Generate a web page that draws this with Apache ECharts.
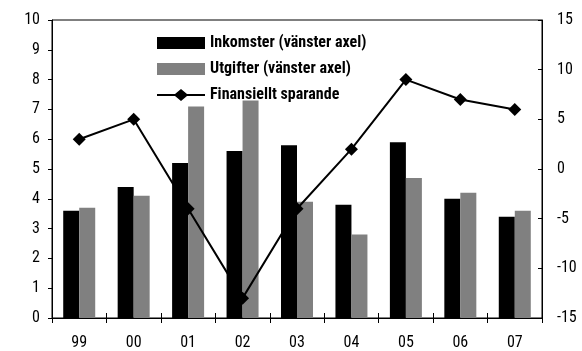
<!DOCTYPE html>
<html>
<head>
<meta charset="utf-8">
<script src="https://cdn.jsdelivr.net/npm/echarts@6/dist/echarts.min.js"></script>
<style>
  html, body { margin: 0; padding: 0; background: #fff; }
  #chart { width: 582px; height: 351px; }
</style>
</head>
<body>
<div id="chart"></div>
<script>
// Years (two-digit)
const years = ['99', '00', '01', '02', '03', '04', '05', '06', '07'];
// Income and expenditure, left axis
const inkomster = [3.6, 4.4, 5.2, 5.6, 5.8, 3.8, 5.9, 4.0, 3.4];
const utgifter = [3.7, 4.1, 7.1, 7.3, 3.9, 2.8, 4.7, 4.2, 3.6];
// Financial saving, right axis
const sparande = [3, 5, -4, -13, -4, 2, 9, 7, 6];

// Condensed Roboto via font-stretch in the canvas font shorthand
const FONT = 'Roboto, sans-serif';
const W_NORMAL = 'normal condensed';
const W_BOLD = 'bold condensed';

// Legend key for the line series: a line with a diamond in the middle
const LINE_KEY = 'path://M0,5 L18,5 L24,0 L30,5 L48,5 L48,7 L30,7 L24,12 L18,7 L0,7 Z';

const chart = echarts.init(document.getElementById('chart'), null, { renderer: 'canvas' });

chart.setOption({
  backgroundColor: '#ffffff',
  animation: false,
  grid: {
    left: 52, right: 40, top: 20, bottom: 32,
    show: true, borderColor: '#000', borderWidth: 1, backgroundColor: 'transparent'
  },
  legend: {
    orient: 'vertical',
    left: 157, top: 35, padding: 0,
    itemWidth: 48, itemHeight: 12, itemGap: 10,
    textStyle: { fontFamily: FONT, fontSize: 16, lineHeight: 14, fontWeight: W_BOLD, color: '#000' },
    data: [
      { name: 'Inkomster (vänster axel)', icon: 'rect' },
      { name: 'Utgifter (vänster axel)', icon: 'rect' },
      { name: 'Finansiellt sparande', icon: LINE_KEY, itemStyle: { color: '#000' } }
    ]
  },
  xAxis: [
    {
      type: 'category', data: years, position: 'bottom',
      axisLine: { onZero: false, lineStyle: { color: '#000', width: 1 } },
      axisTick: { show: true, inside: false, length: 5, lineStyle: { color: '#000' } },
      axisLabel: { fontFamily: FONT, fontWeight: W_NORMAL, fontSize: 16, color: '#000', margin: 17 }
    },
    {
      type: 'category', data: years, position: 'bottom',
      axisLine: { show: false, onZero: false },
      axisTick: { show: true, inside: true, length: 5, lineStyle: { color: '#000' } },
      axisLabel: { show: false }
    }
  ],
  yAxis: [
    {
      type: 'value', min: 0, max: 10, interval: 1, position: 'left',
      axisLine: { show: true, lineStyle: { color: '#000' } },
      axisTick: { show: true, inside: false, length: 4, lineStyle: { color: '#000' } },
      splitLine: { show: false },
      axisLabel: { fontFamily: FONT, fontWeight: W_NORMAL, fontSize: 16, color: '#000', margin: 12 }
    },
    {
      type: 'value', min: -15, max: 15, interval: 5, position: 'right',
      axisLine: { show: true, lineStyle: { color: '#000' } },
      axisTick: { show: true, inside: true, length: 4, lineStyle: { color: '#000' } },
      splitLine: { show: false },
      axisLabel: { fontFamily: FONT, fontWeight: W_NORMAL, fontSize: 16, color: '#000', margin: 15 }
    }
  ],
  series: [
    {
      name: 'Inkomster (vänster axel)', type: 'bar', yAxisIndex: 0, xAxisIndex: 0,
      data: inkomster, barWidth: 16, barGap: '0%',
      itemStyle: { color: '#000000' }
    },
    {
      name: 'Utgifter (vänster axel)', type: 'bar', yAxisIndex: 0, xAxisIndex: 0,
      data: utgifter, barWidth: 16, barGap: '0%',
      itemStyle: { color: '#808080' }
    },
    {
      name: 'Finansiellt sparande', type: 'line', yAxisIndex: 1, xAxisIndex: 0,
      data: sparande, symbol: 'diamond', symbolSize: 13,
      lineStyle: { color: '#000', width: 2 },
      itemStyle: { color: '#000' },
      z: 5
    }
  ]
});
</script>
</body>
</html>
